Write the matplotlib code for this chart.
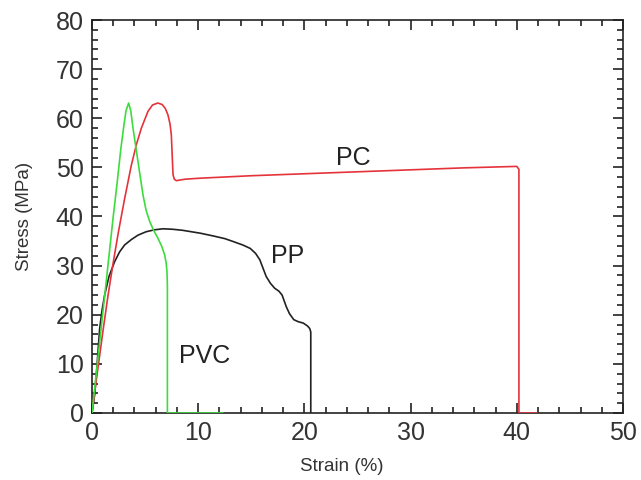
import matplotlib
matplotlib.use("Agg")
import matplotlib.pyplot as plt
from matplotlib.ticker import MultipleLocator

plt.rcParams["font.family"] = ["Liberation Sans", "DejaVu Sans"]

# PC (red)
pc_strain = [0, 0.25, 0.6, 1.04, 1.5, 1.98, 2.5, 3.07, 3.7, 4.2, 4.65,
             5.27, 5.7, 6.2, 6.6, 6.9, 7.15, 7.35, 7.47, 7.55, 7.63, 7.75, 7.94,
             8.8, 10.2, 15, 20, 25, 30, 35, 40.0, 40.2, 40.2, 41.9]
pc_stress = [0, 4.2, 9.8, 16.8, 23.8, 30.4, 37, 43.6, 50.4, 54.8, 58,
             61.4, 62.7, 63.1, 62.8, 62, 60.7, 58.8, 56.6, 52.5, 48.5, 47.6, 47.3,
             47.6, 47.8, 48.3, 48.7, 49.1, 49.5, 49.9, 50.2, 49.6, 0, 0]

# PVC (green)
pvc_strain = [0, 0.5, 1.0, 1.5, 2.0, 2.4, 2.7, 3.0, 3.2, 3.45,
              3.65, 3.86, 4.1, 4.33, 4.8, 5.1, 5.43, 5.8, 6.2, 6.55, 6.84,
              6.98, 7.06, 7.1, 7.1, 12.3]
pvc_stress = [0, 10, 20, 30, 40, 47.5, 53.5, 58.5, 61.5, 63.1,
              61.5, 58, 54.5, 51.2, 44.4, 41.2, 39, 37.2, 35.6, 34, 32.2,
              30.6, 28.8, 26, 0, 0]

# PP (black)
pp_strain = [0, 0.25, 0.45, 0.72, 0.95, 1.19, 1.6, 2.13, 2.6, 3.07, 3.7, 4.33,
             5.1, 5.9, 6.7, 7.6, 8.5, 10.2, 11.5, 12.5, 13.3, 14.2, 14.9, 15.4,
             15.8, 16.1, 16.4, 16.8, 17.2, 17.6, 17.9, 18.1, 18.3, 18.6, 19.0,
             19.4, 19.9, 20.3, 20.5, 20.6, 20.6]
pp_stress = [0, 3.7, 9, 17.2, 21, 24, 27.8, 30.8, 32.8, 34.2, 35.3, 36.2,
             36.9, 37.3, 37.5, 37.4, 37.2, 36.6, 36.0, 35.5, 34.9, 34.2, 33.5, 32.5,
             31.2, 29.5, 27.8, 26.4, 25.4, 24.8, 24.0, 22.8, 21.6, 20.2, 19.0,
             18.6, 18.3, 17.7, 17.2, 16.5, 0]

labels = ["PC", "PP", "PVC"]
label_pos = [(24.6, 52), (18.4, 32), (10.6, 11.6)]

fig = plt.figure(figsize=(6.41, 4.8), dpi=100)
ax = fig.add_axes([92 / 641, 1 - 413 / 480, (623 - 92) / 641, (413 - 20) / 480])

ax.plot(pp_strain, pp_stress, color="#222222", lw=1.2, zorder=3)
ax.plot(pc_strain, pc_stress, color="#e5333b", lw=1.2, zorder=4)
ax.plot(pvc_strain, pvc_stress, color="#3ddc3d", lw=1.2, zorder=5)

for txt, (x, y) in zip(labels, label_pos):
    ax.text(x, y, txt, fontsize=18, color="#222222", ha="center", va="center")

ax.set_xlim(0, 50)
ax.set_ylim(0, 80)
ax.xaxis.set_major_locator(MultipleLocator(10))
ax.xaxis.set_minor_locator(MultipleLocator(2))
ax.yaxis.set_major_locator(MultipleLocator(10))
ax.yaxis.set_minor_locator(MultipleLocator(2))
ax.tick_params(which="both", direction="in", top=True, right=True,
               width=1.2, color="#222222")
ax.tick_params(which="major", length=7, labelsize=18, pad=6, labelcolor="#333333")
ax.tick_params(which="minor", length=4)
for spine in ax.spines.values():
    spine.set_linewidth(1.2)
    spine.set_color("#222222")

ax.set_xlabel("Strain (%)", fontsize=13.5, color="#333333")
ax.set_ylabel("Stress (MPa)", fontsize=13.5, color="#333333")
ax.xaxis.set_label_coords(0.47, -0.115)
ax.yaxis.set_label_coords(-0.111, 0.5)

fig.savefig("out.png", dpi=100)
